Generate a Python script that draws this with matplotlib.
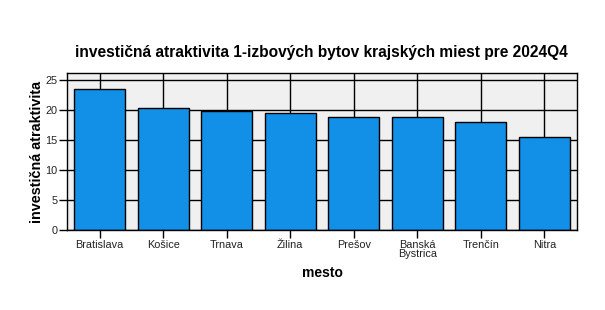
import matplotlib
matplotlib.use("Agg")
import matplotlib.pyplot as plt

categories = ["Bratislava", "Košice", "Trnava", "Žilina", "Prešov", "Banská\nBystrica", "Trenčín", "Nitra"]
values = [23.45, 20.28, 19.83, 19.45, 18.78, 18.75, 17.95, 15.39]
yticks = [0, 5, 10, 15, 20, 25]

fig = plt.figure(figsize=(6.05, 3.10), dpi=100)
ax = fig.add_axes([67/605, 1-230/310, (577-67)/605, (230-73)/310])
ax.set_facecolor("#f0f0f0")
x = list(range(len(categories)))
ax.bar(x, values, width=0.8, color="#1290e8", edgecolor="black", linewidth=1.0, zorder=3)
ax.set_xlim(-0.515, len(categories) - 1 + 0.513)
ax.set_ylim(0, 26.1)
ax.set_yticks(yticks)
ax.set_xticks(x)
ax.set_xticklabels(categories, fontsize=7.8, family="Liberation Sans", color="#222222", linespacing=0.9)
ax.set_yticklabels([str(t) for t in yticks], fontsize=7.8, family="Liberation Sans", color="#222222")
ax.grid(True, color="black", linewidth=1.0, zorder=1)
ax.tick_params(axis="both", length=6, width=1.0, color="black", pad=1)
for s in ax.spines.values():
    s.set_color("black")
    s.set_linewidth(1.0)
    s.set_zorder(4)
ax.set_axisbelow(True)
ax.set_xlabel("mesto", fontsize=10, fontweight="bold", family="Liberation Sans", labelpad=5)
ax.set_ylabel("investičná atraktivita", fontsize=10.4, fontweight="bold", family="Liberation Sans", labelpad=1)
fig.text(0.532, 1-52/310, "investičná atraktivita 1-izbových bytov krajských miest pre 2024Q4",
         ha="center", va="center", fontsize=11.2, fontweight="bold", family="Liberation Sans")
fig.savefig("out.png", dpi=100)
